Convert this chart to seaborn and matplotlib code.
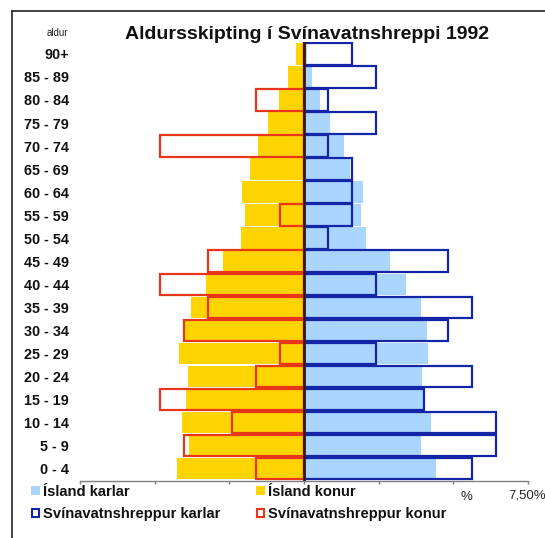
import matplotlib
matplotlib.use("Agg")
import matplotlib.pyplot as plt
from matplotlib.patches import Rectangle
from matplotlib.lines import Line2D
import pandas as pd
import seaborn as sns

# Age groups, oldest at the top
ages = ["90+", "85 - 89", "80 - 84", "75 - 79", "70 - 74", "65 - 69", "60 - 64",
        "55 - 59", "50 - 54", "45 - 49", "40 - 44", "35 - 39", "30 - 34",
        "25 - 29", "20 - 24", "15 - 19", "10 - 14", "5 - 9", "0 - 4"]

# Share of population (%) by age group
island_karlar = [0.10, 0.28, 0.55, 0.86, 1.33, 1.55, 1.99, 1.91, 2.09, 2.90,
                 3.43, 3.93, 4.13, 4.16, 3.96, 3.98, 4.27, 3.93, 4.43]
island_konur = [0.28, 0.52, 0.85, 1.20, 1.53, 1.80, 2.07, 1.99, 2.10, 2.73,
                3.30, 3.79, 4.03, 4.18, 3.90, 3.94, 4.08, 3.84, 4.25]
svin_karlar = [1.61, 2.42, 0.81, 2.42, 0.81, 1.61, 1.61, 1.61, 0.81, 4.84,
               2.42, 5.65, 4.84, 2.42, 5.65, 4.03, 6.45, 6.45, 5.65]
svin_konur = [0.00, 0.00, 1.61, 0.00, 4.84, 0.00, 0.00, 0.81, 0.00, 3.23,
              4.84, 3.23, 4.03, 0.81, 1.61, 4.84, 2.42, 4.03, 1.61]

x_ticks = [-7.5, -5.0, -2.5, 0.0, 2.5, 5.0, 7.5]
x_ticklabels = ["", "", "", "", "", "", "7,50%"]

title = "Aldursskipting í Svínavatnshreppi 1992"
legend_labels = ["Ísland karlar", "Ísland konur",
                 "Svínavatnshreppur karlar", "Svínavatnshreppur konur"]

C_IS_M = "#A9D5FF"
C_IS_F = "#FFD400"
C_SV_M = "#1426A6"
C_SV_F = "#E8361A"

sns.set_theme(style="white")
plt.rcParams["font.family"] = ["Liberation Sans", "DejaVu Sans"]

W, H = 545, 538
fig = plt.figure(figsize=(W / 100, H / 100), dpi=100)
ax = fig.add_axes([80.3 / W, 1 - 481.4 / H, (527.6 - 80.3) / W, (481.4 - 42.4) / H])

df = pd.DataFrame({
    "aldur": ages,
    "is_m": island_karlar,
    "is_f": [-v for v in island_konur],
    "sv_m": svin_karlar,
    "sv_f": [-v for v in svin_konur],
})

bw = 0.93
sns.barplot(data=df, x="is_m", y="aldur", order=ages, color=C_IS_M,
            saturation=1, width=bw, errorbar=None, linewidth=0, ax=ax)
sns.barplot(data=df, x="is_f", y="aldur", order=ages, color=C_IS_F,
            saturation=1, width=bw, errorbar=None, linewidth=0, ax=ax)
sns.barplot(data=df, x="sv_m", y="aldur", order=ages, color=C_SV_M,
            saturation=1, width=bw, errorbar=None, fill=False, linewidth=1.6, ax=ax)
sns.barplot(data=df, x="sv_f", y="aldur", order=ages, color=C_SV_F,
            saturation=1, width=bw, errorbar=None, fill=False, linewidth=1.6, ax=ax)

# Central axis line between the two halves of the pyramid
ax.axvline(0, color="#3a160c", lw=2.0, zorder=5)

ax.set_xlim(-7.5, 7.5)
ax.set_ylim(len(ages) - 0.44, -0.5)
ax.set_xlabel("")
ax.set_ylabel("")
ax.set_xticks(x_ticks)
ax.set_xticklabels(x_ticklabels, fontsize=9.5)
ax.tick_params(axis="x", direction="out", length=2.5, width=1, color="#808080",
               pad=3.5, bottom=True)
ax.tick_params(axis="y", length=0, pad=8.3)
for lbl in ax.get_yticklabels():
    lbl.set_fontweight("bold")
    lbl.set_fontsize(10.4)
    lbl.set_color("#111111")
for s in ["left", "right", "top"]:
    ax.spines[s].set_visible(False)
ax.spines["bottom"].set_color("#808080")
ax.spines["bottom"].set_linewidth(1)

# Text above and beside the plot
fig.text(306.7 / W, 1 - 34.8 / H, title, ha="center", va="center",
         fontsize=14, fontweight="bold", color="#111111")
fig.text(67.8 / W, 1 - 33 / H, "aldur", ha="right", va="center", fontsize=7,
         color="#222222")
fig.text(466 / W, 1 - 496.7 / H, "%", ha="center", va="center", fontsize=9.5,
         color="#222222")

# Legend
leg_items = [
    (31, 490.7, C_IS_M, True, legend_labels[0]),
    (256, 490.7, C_IS_F, True, legend_labels[1]),
    (31, 512.7, C_SV_M, False, legend_labels[2]),
    (256, 512.7, C_SV_F, False, legend_labels[3]),
]
for x0, yc, col, filled, lab in leg_items:
    if filled:
        r = Rectangle((x0 / W, 1 - (yc + 4.5) / H), 9 / W, 9 / H,
                      transform=fig.transFigure, facecolor=col, edgecolor="none")
    else:
        r = Rectangle(((x0 + 0.8) / W, 1 - (yc + 3.8) / H), 7.5 / W, 7.5 / H,
                      transform=fig.transFigure, facecolor="white", edgecolor=col,
                      linewidth=1.5)
    fig.patches.append(r)
    fig.text((x0 + 12.3) / W, 1 - yc / H, lab, ha="left", va="center_baseline",
             fontsize=10.6, fontweight="bold", color="#111111")

# Chart frame
fig.lines.append(Line2D([12.3 / W, 1.0], [1 - 11 / H, 1 - 11 / H],
                        transform=fig.transFigure, color="#222222", lw=1.2))
fig.lines.append(Line2D([12.3 / W, 12.3 / W], [1 - 11 / H, 0.0],
                        transform=fig.transFigure, color="#222222", lw=1.2))

fig.savefig("out.png", dpi=100, facecolor="white")
